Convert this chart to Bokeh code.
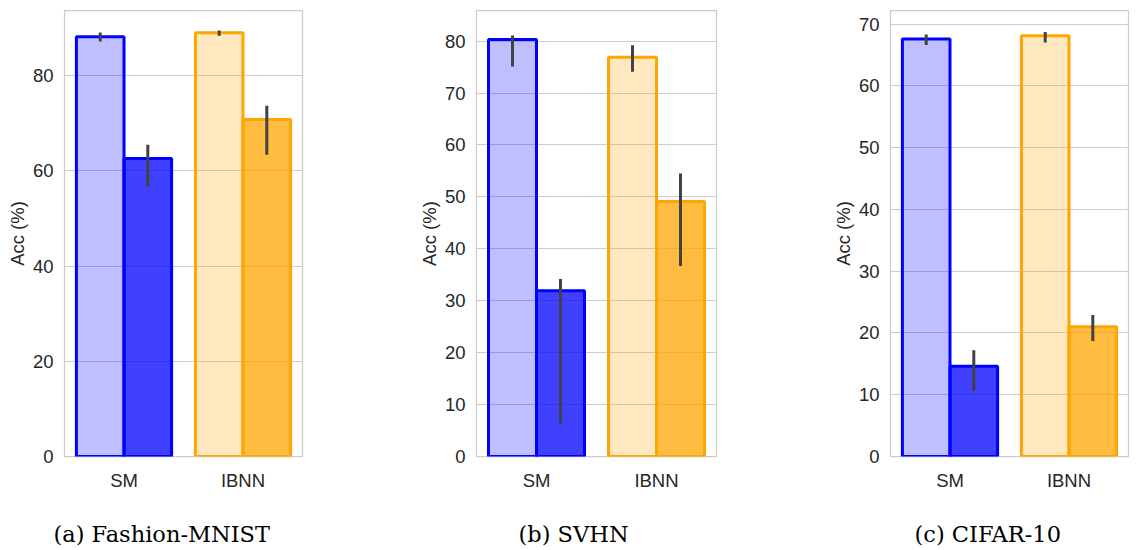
from bokeh.plotting import figure
from bokeh.layouts import row
from bokeh.models import ColumnDataSource, FactorRange, Range1d, FixedTicker, Title
from bokeh.transform import dodge
from bokeh.embed import file_html
from bokeh.resources import INLINE

methods = ["SM", "IBNN"]
captions = ["(a) Fashion-MNIST", "(b) SVHN", "(c) CIFAR-10"]
y_max = [93.7, 85.9, 72.2]
y_ticks = [[0, 20, 40, 60, 80],
           [0, 10, 20, 30, 40, 50, 60, 70, 80],
           [0, 10, 20, 30, 40, 50, 60, 70]]

# per dataset, values for [SM, IBNN]
light_mean = [[88.2, 89.0], [80.3, 76.9], [67.6, 68.1]]
light_lo = [[87.2, 88.4], [75.1, 74.1], [66.6, 67.0]]
light_hi = [[89.1, 89.5], [81.1, 79.2], [68.3, 68.7]]
dark_mean = [[62.6, 70.8], [31.9, 49.1], [14.6, 21.0]]
dark_lo = [[56.7, 63.4], [6.4, 36.7], [10.6, 18.7]]
dark_hi = [[65.5, 73.7], [34.2, 54.5], [17.2, 22.9]]
colors = ["blue", "orange"]

# layout geometry (pixels)
border_left = [64, 76, 61]
border_right = [98, 113, 8]
frame_w = [238, 240, 238]
frame_h = 446
border_top = 10
border_bottom = 92
caption_offset = [-11, 42, 24]
caption_gap = 21

FONT = "Liberation Sans"
FS = "18.5px"
figs = []
for i in range(3):
    p = figure(x_range=FactorRange(*methods), y_range=Range1d(0, y_max[i]),
               frame_width=frame_w[i], frame_height=frame_h,
               min_border_left=border_left[i], min_border_right=border_right[i],
               min_border_top=border_top, min_border_bottom=border_bottom,
               output_backend="svg", toolbar_location=None, tools="")
    p.x_range.range_padding = 0
    p.outline_line_color = "#cccccc"
    p.outline_line_width = 1.25
    p.xgrid.grid_line_color = None
    p.ygrid.grid_line_color = "#cccccc"
    p.ygrid.grid_line_width = 1
    p.yaxis.ticker = FixedTicker(ticks=y_ticks[i])
    for ax in (p.xaxis[0], p.yaxis[0]):
        ax.axis_line_color = None
        ax.major_tick_line_color = None
        ax.minor_tick_line_color = None
        ax.major_tick_out = 0
        ax.major_tick_in = 0
        ax.minor_tick_out = 0
        ax.minor_tick_in = 0
        ax.major_label_text_font = FONT
        ax.major_label_text_font_size = FS
        ax.major_label_text_color = "#262626"
    p.xaxis.major_label_standoff = 13
    # tiny blank axis label used as a spacer above the caption
    p.xaxis.axis_label = " "
    p.xaxis.axis_label_text_font_size = "1px"
    p.xaxis.axis_label_standoff = caption_gap
    p.yaxis.major_label_standoff = 11
    p.yaxis.axis_label = "Acc (%)"
    p.yaxis.axis_label_text_font = FONT
    p.yaxis.axis_label_text_font_style = "normal"
    p.yaxis.axis_label_text_font_size = FS
    p.yaxis.axis_label_text_color = "#262626"
    p.yaxis.axis_label_standoff = 2

    src = ColumnDataSource(dict(
        method=methods, color=colors,
        light=light_mean[i], light_lo=light_lo[i], light_hi=light_hi[i],
        dark=dark_mean[i], dark_lo=dark_lo[i], dark_hi=dark_hi[i]))

    xl = dodge("method", -0.2, range=p.x_range)
    xd = dodge("method", 0.2, range=p.x_range)
    p.vbar(x=xl, top="light", width=0.4, source=src, fill_color="color",
           fill_alpha=0.25, line_color="color", line_width=3)
    p.vbar(x=xd, top="dark", width=0.4, source=src, fill_color="color",
           fill_alpha=0.75, line_color="color", line_width=3)
    p.segment(x0=xl, x1=xl, y0="light_lo", y1="light_hi", source=src,
              line_color="#424242", line_width=3)
    p.segment(x0=xd, x1=xd, y0="dark_lo", y1="dark_hi", source=src,
              line_color="#424242", line_width=3)

    cap = Title(text=captions[i], align="left", offset=caption_offset[i],
                standoff=0, text_font="DejaVu Serif", text_font_size="22.5px",
                text_font_style="normal", text_color="black")
    p.add_layout(cap, "below")
    figs.append(p)

layout = row(*figs, spacing=0)
open("out.html", "w").write(file_html(layout, INLINE))
